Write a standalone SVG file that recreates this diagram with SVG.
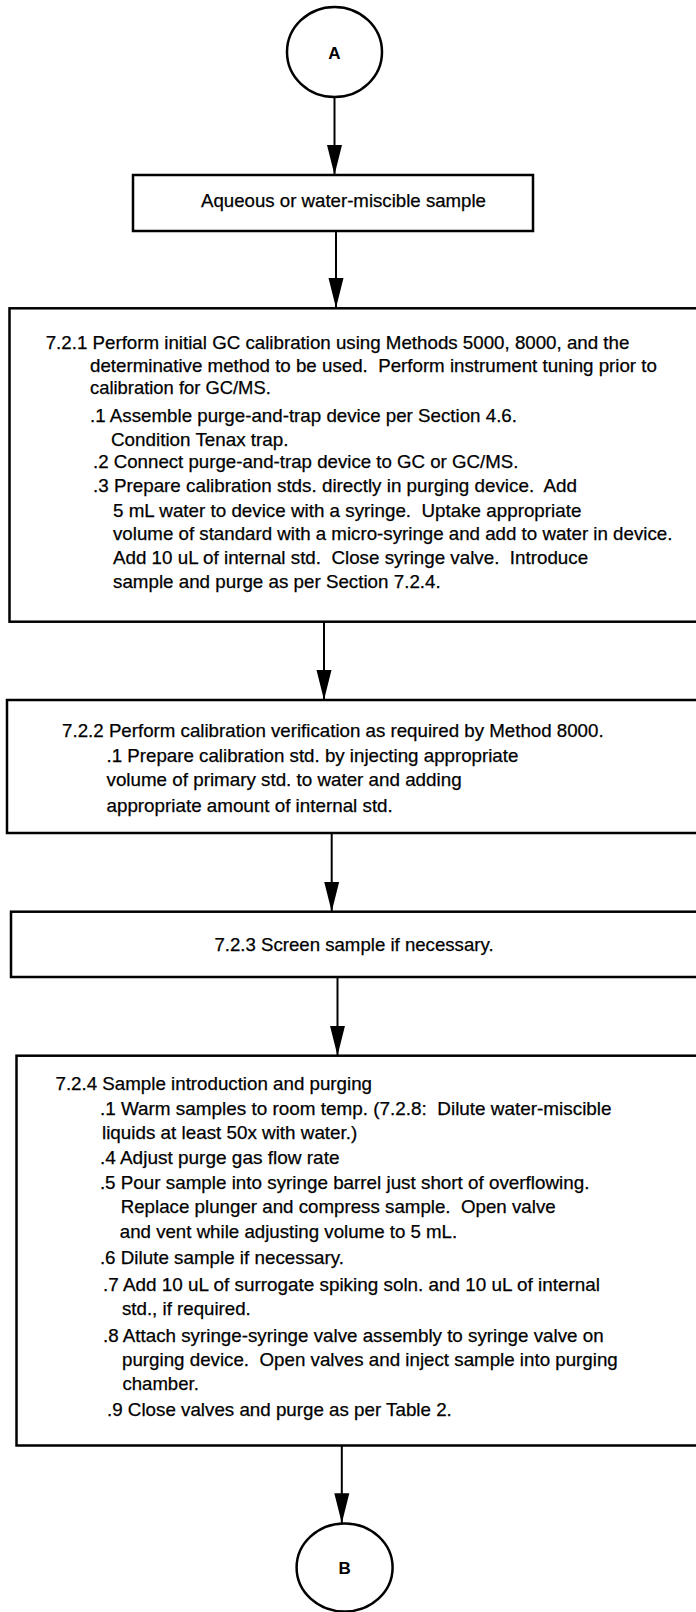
<svg xmlns="http://www.w3.org/2000/svg" width="696" height="1612" viewBox="0 0 696 1612">
<style>
.bg{fill:#fff}
.box{fill:none;stroke:#000;stroke-width:2.5}
.conn{fill:none;stroke:#000;stroke-width:2}
.t{font-family:"Liberation Sans",Arial,sans-serif;font-size:18.5px;fill:#000;stroke:#000;stroke-width:0.25;white-space:pre}
.lbl{font-family:"Liberation Sans",Arial,sans-serif;font-size:17px;font-weight:bold;fill:#000;text-anchor:middle}
</style>
<defs>
<marker id="ah" viewBox="0 0 30 16" refX="30" refY="8" markerWidth="30" markerHeight="16" markerUnits="userSpaceOnUse" orient="auto">
<path d="M0,0.5 L30,8 L0,15.5 Z" fill="#000"/>
</marker>
</defs>
<rect class="bg" x="0" y="0" width="696" height="1612"/>

<g id="connectors">
<line class="conn" x1="334.5" y1="97" x2="334.5" y2="175" marker-end="url(#ah)"/>
<line class="conn" x1="336" y1="231" x2="336" y2="308" marker-end="url(#ah)"/>
<line class="conn" x1="324" y1="622" x2="324" y2="700" marker-end="url(#ah)"/>
<line class="conn" x1="331.7" y1="833" x2="331.7" y2="911.7" marker-end="url(#ah)"/>
<line class="conn" x1="337.5" y1="977" x2="337.5" y2="1055.7" marker-end="url(#ah)"/>
<line class="conn" x1="341.8" y1="1445.5" x2="341.8" y2="1523.3" marker-end="url(#ah)"/>
</g>

<g id="nodeA">
<ellipse class="box" cx="334.5" cy="52" rx="47.5" ry="45"/>
<text class="lbl" x="334.5" y="58.5">A</text>
</g>

<g id="box1">
<rect class="box" x="133" y="175" width="400" height="56"/>
<text class="t" x="201" y="206.7" textLength="285" lengthAdjust="spacingAndGlyphs">Aqueous or water-miscible sample</text>
</g>

<g id="box2">
<rect class="box" x="9.5" y="308.3" width="700" height="313.4"/>
<text class="t" x="45.7" y="349" textLength="583.7" lengthAdjust="spacingAndGlyphs">7.2.1 Perform initial GC calibration using Methods 5000, 8000, and the</text>
<text class="t" x="90" y="371.7" textLength="566.9" lengthAdjust="spacingAndGlyphs">determinative method to be used.  Perform instrument tuning prior to</text>
<text class="t" x="90" y="394.3" textLength="180.8" lengthAdjust="spacingAndGlyphs">calibration for GC/MS.</text>
<text class="t" x="90" y="421.7" textLength="427" lengthAdjust="spacingAndGlyphs">.1 Assemble purge-and-trap device per Section 4.6.</text>
<text class="t" x="111" y="446" textLength="177.5" lengthAdjust="spacingAndGlyphs">Condition Tenax trap.</text>
<text class="t" x="93" y="468.3" textLength="425.4" lengthAdjust="spacingAndGlyphs">.2 Connect purge-and-trap device to GC or GC/MS.</text>
<text class="t" x="93" y="492.3" textLength="484" lengthAdjust="spacingAndGlyphs">.3 Prepare calibration stds. directly in purging device.  Add</text>
<text class="t" x="113" y="516.7" textLength="468.4" lengthAdjust="spacingAndGlyphs">5 mL water to device with a syringe.  Uptake appropriate</text>
<text class="t" x="113" y="540" textLength="559.4" lengthAdjust="spacingAndGlyphs">volume of standard with a micro-syringe and add to water in device.</text>
<text class="t" x="113" y="564" textLength="475.1" lengthAdjust="spacingAndGlyphs">Add 10 uL of internal std.  Close syringe valve.  Introduce</text>
<text class="t" x="113" y="588.3" textLength="327.7" lengthAdjust="spacingAndGlyphs">sample and purge as per Section 7.2.4.</text>
</g>

<g id="box3">
<rect class="box" x="7" y="700" width="700" height="133"/>
<text class="t" x="62.1" y="736.5" textLength="541.5" lengthAdjust="spacingAndGlyphs">7.2.2 Perform calibration verification as required by Method 8000.</text>
<text class="t" x="106.5" y="761.5" textLength="411.9" lengthAdjust="spacingAndGlyphs">.1 Prepare calibration std. by injecting appropriate</text>
<text class="t" x="106.5" y="786.3" textLength="355.1" lengthAdjust="spacingAndGlyphs">volume of primary std. to water and adding</text>
<text class="t" x="106.5" y="811.5" textLength="286.3" lengthAdjust="spacingAndGlyphs">appropriate amount of internal std.</text>
</g>

<g id="box4">
<rect class="box" x="11" y="911.7" width="700" height="65.3"/>
<text class="t" x="214.4" y="950.5" textLength="279.2" lengthAdjust="spacingAndGlyphs">7.2.3 Screen sample if necessary.</text>
</g>

<g id="box5">
<rect class="box" x="16.5" y="1055.7" width="700" height="389.8"/>
<text class="t" x="55.5" y="1090" textLength="316.5" lengthAdjust="spacingAndGlyphs">7.2.4 Sample introduction and purging</text>
<text class="t" x="99.9" y="1115" textLength="511.7" lengthAdjust="spacingAndGlyphs">.1 Warm samples to room temp. (7.2.8:  Dilute water-miscible</text>
<text class="t" x="102" y="1139.3" textLength="255.3" lengthAdjust="spacingAndGlyphs">liquids at least 50x with water.)</text>
<text class="t" x="99.9" y="1164" textLength="239.6" lengthAdjust="spacingAndGlyphs">.4 Adjust purge gas flow rate</text>
<text class="t" x="99.9" y="1188.5" textLength="489.5" lengthAdjust="spacingAndGlyphs">.5 Pour sample into syringe barrel just short of overflowing.</text>
<text class="t" x="120.7" y="1213.3" textLength="435" lengthAdjust="spacingAndGlyphs">Replace plunger and compress sample.  Open valve</text>
<text class="t" x="119.8" y="1238.3" textLength="337.4" lengthAdjust="spacingAndGlyphs">and vent while adjusting volume to 5 mL.</text>
<text class="t" x="99.9" y="1264" textLength="244.1" lengthAdjust="spacingAndGlyphs">.6 Dilute sample if necessary.</text>
<text class="t" x="103" y="1290.7" textLength="497" lengthAdjust="spacingAndGlyphs">.7 Add 10 uL of surrogate spiking soln. and 10 uL of internal</text>
<text class="t" x="122" y="1315" textLength="128.8" lengthAdjust="spacingAndGlyphs">std., if required.</text>
<text class="t" x="103" y="1341.7" textLength="500.6" lengthAdjust="spacingAndGlyphs">.8 Attach syringe-syringe valve assembly to syringe valve on</text>
<text class="t" x="122" y="1366" textLength="495.8" lengthAdjust="spacingAndGlyphs">purging device.  Open valves and inject sample into purging</text>
<text class="t" x="122.5" y="1390" textLength="76.3" lengthAdjust="spacingAndGlyphs">chamber.</text>
<text class="t" x="107" y="1416" textLength="344.8" lengthAdjust="spacingAndGlyphs">.9 Close valves and purge as per Table 2.</text>
</g>

<g id="nodeB">
<ellipse class="box" cx="344.6" cy="1567.5" rx="48" ry="44"/>
<text class="lbl" x="344.6" y="1573.5">B</text>
</g>
</svg>
